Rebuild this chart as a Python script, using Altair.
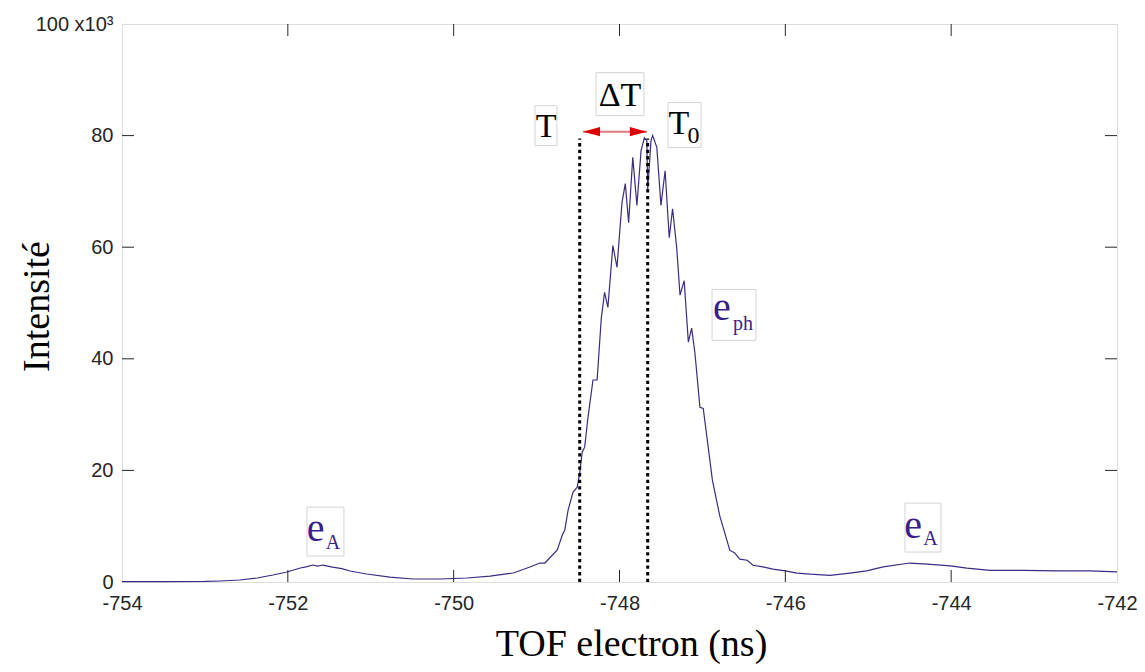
import altair as alt
import pandas as pd

# ---------------- data ----------------
tof = [-754.00, -753.50, -753.00, -752.82, -752.58, -752.37, -752.18, -752.01,
       -751.85, -751.78, -751.70, -751.64, -751.58, -751.46, -751.35, -751.25,
       -751.05, -750.77, -750.49, -750.16, -749.84, -749.56, -749.28, -749.08,
       -748.96, -748.90, -748.75, -748.69, -748.66, -748.62, -748.56, -748.51,
       -748.48, -748.45, -748.42, -748.38, -748.36, -748.32, -748.27, -748.22,
       -748.18, -748.14, -748.08, -748.03, -747.97, -747.93, -747.89, -747.84,
       -747.79, -747.74, -747.70, -747.67, -747.66, -747.62, -747.60, -747.55,
       -747.50, -747.45, -747.40, -747.36, -747.31, -747.27, -747.22, -747.19,
       -747.17, -747.13, -747.09, -747.03, -746.99, -746.88, -746.85, -746.79,
       -746.75, -746.67, -746.61, -746.55, -746.46, -746.39, -746.27, -746.15,
       -746.00, -745.86, -745.70, -745.46, -745.22, -745.02, -744.82, -744.50,
       -744.29, -744.01, -743.81, -743.53, -743.13, -742.72, -742.33, -742.00]
intensity = [0.05, 0.05, 0.10, 0.18, 0.36, 0.72, 1.25, 1.79,
             2.51, 2.70, 3.04, 2.85, 3.04, 2.68, 2.40, 1.97,
             1.43, 0.89, 0.54, 0.54, 0.72, 1.07, 1.61, 2.68,
             3.40, 3.40, 5.73, 8.41, 9.31, 12.89, 16.11, 17.00,
             19.51, 23.27, 24.16, 29.53, 31.70, 36.20, 36.20, 47.20,
             51.90, 49.20, 60.30, 56.40, 68.00, 71.40, 64.40, 76.10,
             67.50, 77.30, 79.60, 79.10, 70.20, 79.10, 80.00, 77.90,
             67.50, 73.70, 61.70, 66.90, 59.90, 51.40, 54.00, 47.40,
             43.00, 45.50, 41.00, 31.30, 31.10, 18.30, 16.10, 11.80,
             9.80, 5.70, 5.20, 4.10, 3.90, 3.00, 2.70, 2.30,
             2.00, 1.60, 1.40, 1.20, 1.60, 2.00, 2.70, 3.40,
             3.20, 2.90, 2.50, 2.10, 2.10, 2.00, 2.00, 1.80]

x_ticks = [-754, -752, -750, -748, -746, -744, -742]
y_ticks = [0, 20, 40, 60, 80, 100]
inner_x_ticks = [-752, -750, -748, -746, -744]
inner_y_ticks = [20, 40, 60, 80]

# markers T and T0 (dotted lines) and the double arrow between them
marker_x = [-748.48, -747.66]
marker_top = 79.5
arrow_from = -748.44
arrow_to = -747.67
arrow_y = 80.7

# label boxes (x1, x2, y1, y2)
box_x1 = [-749.019, -748.283, -747.415, -746.884, -751.769, -744.557]
box_x2 = [-748.754, -747.705, -747.017, -746.354, -751.323, -744.123]
box_y1 = [85.37, 91.28, 85.91, 52.44, 13.42, 14.14]
box_y2 = [78.21, 83.58, 77.85, 43.31, 4.65, 5.37]

# label texts
lab_text = ["T", "ΔT", "T", "0", "e", "ph", "e", "A", "e", "A"]
lab_x = [-748.886, -747.994, -747.283, -747.108, -746.764, -746.510,
         -751.666, -751.455, -744.460, -744.250]
lab_y = [79.82, 85.37, 80.36, 78.75, 46.89, 45.10, 7.34, 5.91, 7.87, 6.62]
lab_size = [34, 34, 34, 24, 40, 20, 40, 20, 40, 20]
lab_color = ["#000000", "#000000", "#000000", "#000000", "#3a1f8a", "#3a1f8a",
             "#3a1f8a", "#3a1f8a", "#3a1f8a", "#3a1f8a"]

# ---------------- chart ----------------
W, H = 995, 558
AX = "#262626"
X_TITLE = "TOF electron (ns)"
Y_TITLE = "Intensité"
xs = alt.Scale(domain=[-754, -742], nice=False, zero=False)
ys = alt.Scale(domain=[0, 100], nice=False, zero=False)

x_axis = alt.Axis(values=x_ticks, ticks=False, domain=False, grid=False,
                  labelExpr="'-' + abs(datum.value)", labelFlush=False,
                  labelFont="Liberation Sans", labelFontSize=20,
                  labelColor=AX, labelPadding=11,
                  titleFont="Liberation Serif", titleFontSize=38,
                  titleFontWeight="normal", titleColor="#000000",
                  titleX=509, titleY=73, titleBaseline="alphabetic",
                  titleAlign="center")
y_axis = alt.Axis(values=y_ticks, ticks=False, domain=False, grid=False,
                  labelExpr="datum.value == 100 ? '100 x10³' : datum.label",
                  labelFont="Liberation Sans", labelFontSize=20,
                  labelColor=AX, labelPadding=9,
                  titleFont="Liberation Serif", titleFontSize=38,
                  titleFontWeight="normal", titleColor="#000000",
                  titleAngle=270, titleX=-74, titleY=282,
                  titleBaseline="alphabetic", titleAlign="center")


def X(field):
    return alt.X(field, scale=xs, axis=x_axis, title=X_TITLE)


def Y(field):
    return alt.Y(field, scale=ys, axis=y_axis, title=Y_TITLE)


curve_df = pd.DataFrame({"tof": tof, "intensity": intensity})
curve = alt.Chart(curve_df).mark_line(color="#3a2c84", strokeWidth=1.2).encode(
    x=X("tof:Q"), y=Y("intensity:Q"))

xt_df = pd.DataFrame({"x": inner_x_ticks})
yt_df = pd.DataFrame({"y": inner_y_ticks})
tick_bottom = alt.Chart(xt_df).mark_rule(color=AX, strokeWidth=1).encode(
    x=X("x:Q"), y=alt.value(H), y2=alt.value(H - 12))
tick_top = alt.Chart(xt_df).mark_rule(color=AX, strokeWidth=1).encode(
    x=X("x:Q"), y=alt.value(0), y2=alt.value(12))
tick_left = alt.Chart(yt_df).mark_rule(color=AX, strokeWidth=1).encode(
    y=Y("y:Q"), x=alt.value(0), x2=alt.value(12))
tick_right = alt.Chart(yt_df).mark_rule(color=AX, strokeWidth=1).encode(
    y=Y("y:Q"), x=alt.value(W), x2=alt.value(W - 12))

mk_df = pd.DataFrame({"x": marker_x, "y0": [0, 0], "y1": [marker_top, marker_top]})
markers = alt.Chart(mk_df).mark_rule(color="#000000", strokeWidth=3,
                                      strokeDash=[3.3, 3.3]).encode(
    x=X("x:Q"), y=Y("y0:Q"), y2="y1:Q")

arr_df = pd.DataFrame({"x1": [arrow_from], "x2": [arrow_to], "y": [arrow_y]})
arrow_line = alt.Chart(arr_df).mark_rule(color="#e07a7a", strokeWidth=2).encode(
    x=X("x1:Q"), x2="x2:Q", y=Y("y:Q"))
head_left = alt.Chart(arr_df).mark_point(
    shape="M0,0 L2,-0.55 L2,0.55 Z", size=289, filled=True, color="#dd0000",
    opacity=1).encode(x=X("x1:Q"), y=Y("y:Q"))
head_right = alt.Chart(arr_df).mark_point(
    shape="M0,0 L-2,-0.55 L-2,0.55 Z", size=289, filled=True, color="#dd0000",
    opacity=1).encode(x=X("x2:Q"), y=Y("y:Q"))

box_df = pd.DataFrame({"x1": box_x1, "x2": box_x2, "y1": box_y1, "y2": box_y2})
boxes = alt.Chart(box_df).mark_rect(fill="#ffffff", stroke="#d4d4d4",
                                    strokeWidth=1).encode(
    x=X("x1:Q"), x2="x2:Q", y=Y("y1:Q"), y2="y2:Q")

lab_df = pd.DataFrame({"t": lab_text, "x": lab_x, "y": lab_y,
                       "s": lab_size, "c": lab_color})
labels = alt.Chart(lab_df).mark_text(font="Liberation Serif", align="center",
                                     baseline="alphabetic").encode(
    x=X("x:Q"), y=Y("y:Q"),
    text="t:N",
    size=alt.Size("s:Q", scale=None, legend=None),
    color=alt.Color("c:N", scale=None, legend=None))

chart = alt.layer(
    curve, tick_bottom, tick_top, tick_left, tick_right, markers,
    arrow_line, head_left, head_right, boxes, labels
).properties(
    width=W, height=H,
    autosize=alt.AutoSizeParams(type="none"),
    padding={"left": 114, "top": 16, "right": 20, "bottom": 82},
).configure_view(stroke=AX, strokeWidth=1).configure(background="#ffffff")

chart.save("out.html", embed_options={"renderer": "svg", "actions": False})
